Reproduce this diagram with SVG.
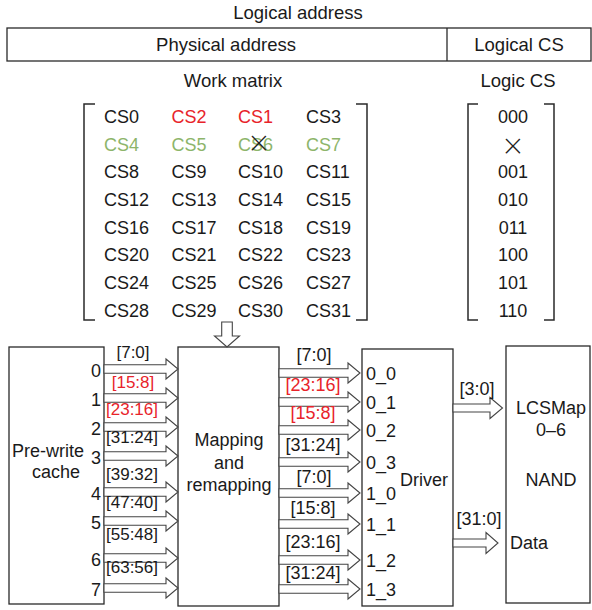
<svg xmlns="http://www.w3.org/2000/svg" width="592" height="610" viewBox="0 0 592 610">
<defs>
<style>
text{font-family:"Liberation Sans",Arial,sans-serif;fill:#1a1a1a}
.t16{font-size:18.5px}
.t18{font-size:18px}
.bl{font-size:17px}
.br{font-size:18px}
.m{text-anchor:middle}
.e{text-anchor:end}
.red{fill:#e8232a}
.grn{fill:#8db56a}
.box{fill:#fff;stroke:#2a2a2a;stroke-width:1.3}
.brk{fill:none;stroke:#2a2a2a;stroke-width:1.5}
.arr{fill:#fff;stroke:#444;stroke-width:1.1;stroke-linejoin:miter}
.x{font-family:"Lato","Liberation Sans",sans-serif;font-size:35px;font-weight:300;fill:#222}
</style>
<polygon id="la" points="0,-4.3 62,-4.3 62,-10 74,0 62,10 62,4.3 0,4.3"/>
<polygon id="ra" points="0,-4.3 69,-4.3 69,-10 81,0 69,10 69,4.3 0,4.3"/>
</defs>

<g id="header">
<text class="t16 m" x="298" y="18.5">Logical address</text>
<rect class="box" x="7" y="28" width="584" height="33" fill="none"/>
<line x1="447" y1="28" x2="447" y2="61" stroke="#2a2a2a" stroke-width="1.3"/>
<text class="t16 m" x="226" y="51">Physical address</text>
<text class="t16 m" x="519" y="51">Logical CS</text>
<text class="t16 m" x="233" y="86.5">Work matrix</text>
<text class="t16 m" x="518" y="86.5">Logic CS</text>
</g>

<g id="work-matrix">
<path class="brk" d="M95,104 H84 V320 H95"/>
<path class="brk" d="M356,104 H367 V320 H356"/>
<g class="t18">
<text x="104" y="123">CS0</text><text class="red" x="171.5" y="123">CS2</text><text class="red" x="238" y="123">CS1</text><text x="306" y="123">CS3</text>
<text class="grn" x="104" y="150.5">CS4</text><text class="grn" x="171.5" y="150.5">CS5</text><text class="grn" x="238" y="150.5">CS6</text><text class="grn" x="306" y="150.5">CS7</text>
<text x="104" y="178">CS8</text><text x="171.5" y="178">CS9</text><text x="238" y="178">CS10</text><text x="306" y="178">CS11</text>
<text x="104" y="206">CS12</text><text x="171.5" y="206">CS13</text><text x="238" y="206">CS14</text><text x="306" y="206">CS15</text>
<text x="104" y="233.5">CS16</text><text x="171.5" y="233.5">CS17</text><text x="238" y="233.5">CS18</text><text x="306" y="233.5">CS19</text>
<text x="104" y="261">CS20</text><text x="171.5" y="261">CS21</text><text x="238" y="261">CS22</text><text x="306" y="261">CS23</text>
<text x="104" y="289">CS24</text><text x="171.5" y="289">CS25</text><text x="238" y="289">CS26</text><text x="306" y="289">CS27</text>
<text x="104" y="317">CS28</text><text x="171.5" y="317">CS29</text><text x="238" y="317">CS30</text><text x="306" y="317">CS31</text>
</g>
<text class="x m" x="259" y="155">×</text>
</g>

<g id="logic-cs">
<path class="brk" d="M478,104 H468 V320 H478"/>
<path class="brk" d="M544,104 H554 V320 H544"/>
<g class="t18 m">
<text x="513" y="123">000</text>
<text class="x" x="513" y="158">×</text>
<text x="513" y="178">001</text>
<text x="513" y="206">010</text>
<text x="513" y="233.5">011</text>
<text x="513" y="261">100</text>
<text x="513" y="289">101</text>
<text x="513" y="317">110</text>
</g>
</g>

<g id="pre-write-cache">
<rect class="box" x="9" y="347" width="95" height="257"/>
<text class="t18" x="12" y="457">Pre-write</text>
<text class="t18" x="32" y="478">cache</text>
<g class="t18 e">
<text x="101" y="377">0</text><text x="101" y="406">1</text><text x="101" y="435">2</text><text x="101" y="464">3</text>
<text x="101" y="500">4</text><text x="101" y="529">5</text><text x="101" y="566">6</text><text x="101" y="596">7</text>
</g>
</g>

<g id="mapping">
<rect class="box" x="178" y="347" width="101" height="259"/>
<text class="t18 m" x="229" y="446">Mapping</text>
<text class="t18 m" x="229" y="469">and</text>
<text class="t18 m" x="229" y="491">remapping</text>
</g>

<g id="driver">
<rect class="box" x="362" y="349" width="91" height="257"/>
<g class="t18">
<text x="366" y="380">0_0</text><text x="366" y="409">0_1</text><text x="366" y="437">0_2</text><text x="366" y="469">0_3</text>
<text x="366" y="500">1_0</text><text x="366" y="531">1_1</text><text x="366" y="567">1_2</text><text x="366" y="596">1_3</text>
</g>
<text class="t18" x="400" y="486">Driver</text>
</g>

<g id="nand">
<rect class="box" x="506" y="346" width="84" height="257"/>
<text class="t18 m" x="551" y="414">LCSMap</text>
<text class="t18 m" x="551" y="436">0–6</text>
<text class="t18 m" x="551" y="486">NAND</text>
<text class="t18" x="510" y="549">Data</text>
</g>

<g id="connectors">
<polygon class="arr" points="221.7,322 232.3,322 232.3,336 239.5,336 227,347 214.5,336 221.7,336"/>
<g class="arr">
<use href="#la" x="104" y="369"/><use href="#la" x="104" y="398"/><use href="#la" x="104" y="427"/><use href="#la" x="104" y="456"/>
<use href="#la" x="104" y="492"/><use href="#la" x="104" y="521"/><use href="#la" x="104" y="558"/><use href="#la" x="104" y="588"/>
<use href="#ra" x="279" y="373"/><use href="#ra" x="279" y="402"/><use href="#ra" x="279" y="430"/><use href="#ra" x="279" y="462"/>
<use href="#ra" x="279" y="493"/><use href="#ra" x="279" y="524"/><use href="#ra" x="279" y="560"/><use href="#ra" x="279" y="589"/>
</g>
<polygon class="arr" points="453,404 490,404 490,397.5 502.5,408 490,418.5 490,412 453,412"/>
<polygon class="arr" points="453,539 486,539 486,532.5 498,543 486,553.5 486,547 453,547"/>
<g class="bl m">
<text x="133" y="358">[7:0]</text>
<text class="red" x="133" y="388">[15:8]</text>
<text class="red" x="132" y="415">[23:16]</text>
<text x="132" y="443">[31:24]</text>
<text x="132" y="480">[39:32]</text>
<text x="132" y="508">[47:40]</text>
<text x="132" y="540">[55:48]</text>
<text x="132" y="573">[63:56]</text>
</g>
<g class="br m">
<text x="314" y="361">[7:0]</text>
<text class="red" x="313" y="391">[23:16]</text>
<text class="red" x="313" y="419">[15:8]</text>
<text x="313" y="451">[31:24]</text>
<text x="314" y="483">[7:0]</text>
<text x="313" y="514">[15:8]</text>
<text x="313" y="548">[23:16]</text>
<text x="313" y="579">[31:24]</text>
</g>
<text class="br m" x="477" y="395">[3:0]</text>
<text class="br m" x="479" y="525">[31:0]</text>
</g>
</svg>
